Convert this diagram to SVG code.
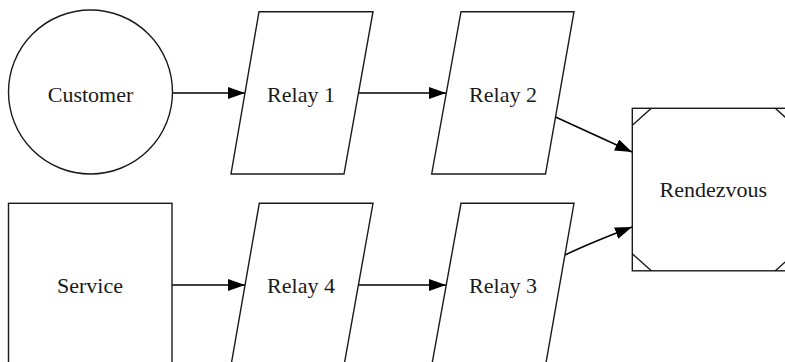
<svg xmlns="http://www.w3.org/2000/svg" width="785" height="362" viewBox="0 0 785 362">
<style>
.shape{fill:#ffffff;stroke:#1a1a1a;stroke-width:1.4}
.lbl{font-family:'Liberation Serif','DejaVu Serif','Times New Roman',Times,serif;font-size:22px;fill:#1a1a1a;text-anchor:middle}
.edge{fill:none;stroke:#000000;stroke-width:1.5}
</style>
<defs>
<marker id="arr" markerUnits="userSpaceOnUse" markerWidth="18" markerHeight="13" refX="17" refY="6" orient="auto">
<path d="M0,0 L17,6 L0,12 Z" fill="#000000"/>
</marker>
</defs>
<rect width="785" height="362" fill="#ffffff"/>
<g id="connectors">
<line class="edge" x1="173" y1="93" x2="245" y2="93" marker-end="url(#arr)"/>
<line class="edge" x1="358.5" y1="93" x2="446" y2="93" marker-end="url(#arr)"/>
<line class="edge" x1="172" y1="285" x2="245" y2="285" marker-end="url(#arr)"/>
<line class="edge" x1="358.5" y1="285" x2="446" y2="285" marker-end="url(#arr)"/>
<path class="edge" d="M555.5,117 L632,152" marker-end="url(#arr)"/>
<path class="edge" d="M565,255 Q590,243 632,227" marker-end="url(#arr)"/>
</g>
<g id="customer">
<circle class="shape" cx="90.5" cy="92" r="82"/>
<text class="lbl" x="90.5" y="101.5">Customer</text>
</g>
<g id="relay1">
<polygon class="shape" points="259,11.7 373,11.7 344,174 231,174"/>
<text class="lbl" x="301" y="101.5">Relay 1</text>
</g>
<g id="relay2">
<polygon class="shape" points="461,11.7 574,11.7 545.5,174 431.7,174"/>
<text class="lbl" x="503" y="101.5">Relay 2</text>
</g>
<g id="service">
<rect class="shape" x="8.5" y="203.3" width="163.5" height="162.3"/>
<text class="lbl" x="90" y="292.5">Service</text>
</g>
<g id="relay4">
<polygon class="shape" points="259.3,203.3 373,203.3 344,365.6 231,365.6"/>
<text class="lbl" x="301" y="292.5">Relay 4</text>
</g>
<g id="relay3">
<polygon class="shape" points="461,203.3 574,203.3 545.5,365.6 431.7,365.6"/>
<text class="lbl" x="503" y="292.5">Relay 3</text>
</g>
<g id="rendezvous">
<rect class="shape" x="632.3" y="108.3" width="162" height="162.5"/>
<path class="shape" d="M632.3,125.3 L651.3,108.3 M775.3,108.3 L794.3,125.3 M632.3,253.8 L651.3,270.8 M775.3,270.8 L794.3,253.8" fill="none"/>
<text class="lbl" x="713.3" y="196.8">Rendezvous</text>
</g>
</svg>
